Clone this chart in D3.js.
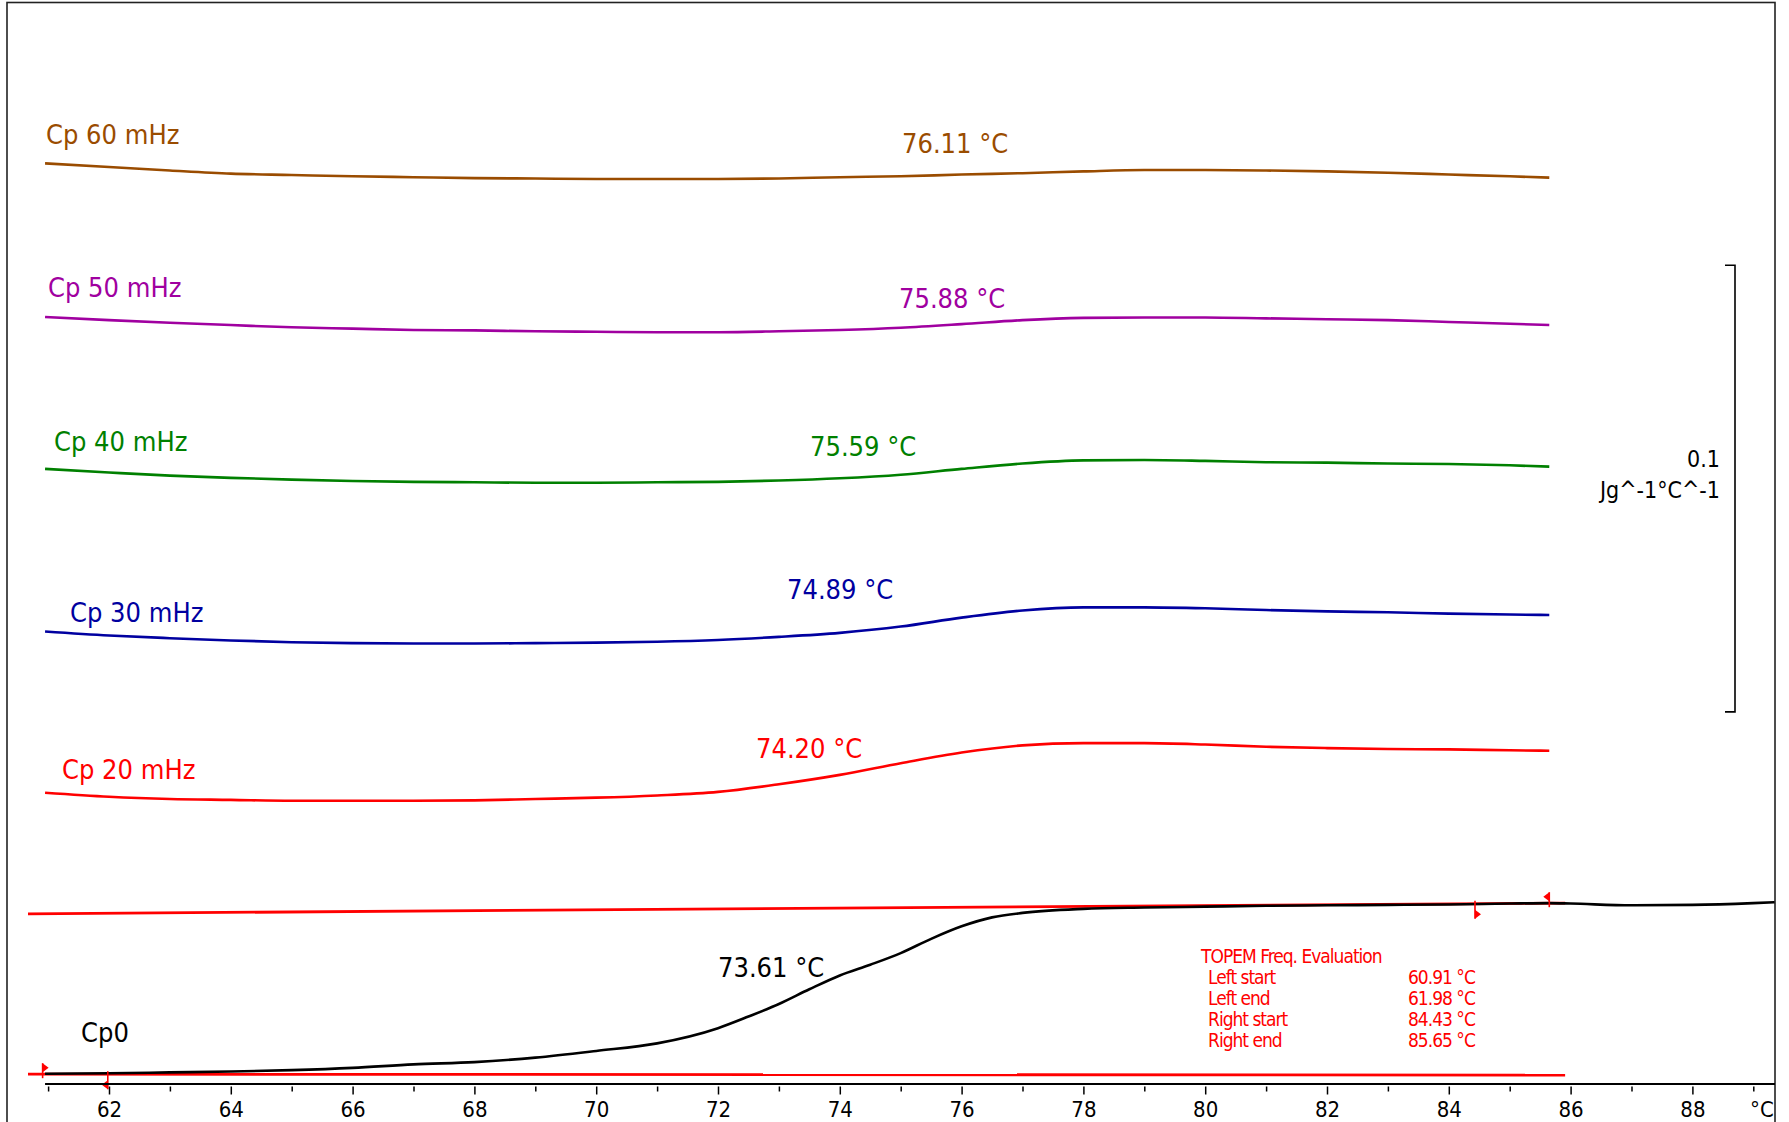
<!DOCTYPE html>
<html>
<head>
<meta charset="utf-8">
<script src="https://cdn.jsdelivr.net/npm/d3@7"></script>
<style>
  html, body { margin: 0; padding: 0; background: #fff; }
  svg { display: block; }
  text { font-family: "DejaVu Sans Condensed", "DejaVu Sans", sans-serif; font-stretch: condensed; }
</style>
</head>
<body>
<svg id="chart" width="1789" height="1122"></svg>
<script>
// ---- Data -------------------------------------------------------------
// Temperature grid (°C) shared by the five TOPEM frequency curves
const temps = [60.95, 62, 63, 64, 65, 66, 67, 68, 69, 70, 71, 72, 73, 74, 75,
               76, 77, 78, 79, 80, 81, 82, 83, 84, 85, 85.65];

// Shifted Cp curves, J g^-1 °C^-1
const cp60 = [0.2061, 0.2053, 0.2045, 0.2038, 0.2035, 0.2032, 0.2030, 0.2028, 0.2027, 0.2026,
              0.2026, 0.2026, 0.2027, 0.2030, 0.2032, 0.2036, 0.2039, 0.2043, 0.2046, 0.2046,
              0.2045, 0.2043, 0.2040, 0.2036, 0.2032, 0.2029];
const cp50 = [0.1717, 0.1710, 0.1704, 0.1699, 0.1694, 0.1691, 0.1688, 0.1687, 0.1685, 0.1684,
              0.1683, 0.1683, 0.1685, 0.1688, 0.1693, 0.1701, 0.1710, 0.1715, 0.1716, 0.1716,
              0.1714, 0.1712, 0.1710, 0.1706, 0.1702, 0.1699];
const cp40 = [0.1377, 0.1369, 0.1362, 0.1357, 0.1353, 0.1350, 0.1348, 0.1347, 0.1346, 0.1346,
              0.1347, 0.1348, 0.1351, 0.1356, 0.1364, 0.1377, 0.1389, 0.1396, 0.1397, 0.1395,
              0.1392, 0.1391, 0.1389, 0.1388, 0.1385, 0.1382];
const cp30 = [0.1013, 0.1004, 0.0998, 0.0993, 0.0989, 0.0987, 0.0986, 0.0986, 0.0987, 0.0988,
              0.0990, 0.0994, 0.1001, 0.1010, 0.1024, 0.1044, 0.1060, 0.1067, 0.1067, 0.1065,
              0.1061, 0.1058, 0.1056, 0.1053, 0.1051, 0.1050];
const cp20 = [0.0652, 0.0643, 0.0638, 0.0636, 0.0634, 0.0634, 0.0634, 0.0635, 0.0638, 0.0641,
              0.0646, 0.0654, 0.0671, 0.0692, 0.0718, 0.0742, 0.0758, 0.0763, 0.0763, 0.0760,
              0.0755, 0.0752, 0.0750, 0.0749, 0.0747, 0.0746];

// Quasi-static Cp0 curve, on its own (finer, longer) temperature grid
const cp0Temps = [60.95, 62, 63, 64, 65, 66, 67, 68, 69, 70, 71, 72, 72.5, 73, 73.5, 74, 74.5,
                  75, 75.5, 76, 76.5, 77, 78, 79, 80, 81, 82, 83, 84, 85, 85.65, 86, 87, 88, 89, 89.35];
const cp0 = [0.0023, 0.0024, 0.0026, 0.0028, 0.0031, 0.0036, 0.0044, 0.0049, 0.0059, 0.0074,
             0.0091, 0.0125, 0.0151, 0.0179, 0.0212, 0.0243, 0.0267, 0.0293, 0.0325, 0.0353,
             0.0373, 0.0383, 0.0392, 0.0395, 0.0397, 0.0399, 0.0400, 0.0401, 0.0402, 0.0404,
             0.0405, 0.0404, 0.0400, 0.0401, 0.0405, 0.0407];

// Curve names and their evaluated glass-transition midpoints (°C)
const curveNames = ["Cp 60 mHz", "Cp 50 mHz", "Cp 40 mHz", "Cp 30 mHz", "Cp 20 mHz", "Cp0"];
const midpoints  = [76.11, 75.88, 75.59, 74.89, 74.20, 73.61];

// Tangent baselines of the Cp0 step: [temperature, Cp]
const lowerBaseline = [[60.67, 0.0022], [85.91, 0.0020]];
const upperBaseline = [[60.67, 0.0381], [85.91, 0.0405]];

// TOPEM evaluation limits
const limitNames = ["Left start", "Left end", "Right start", "Right end"];
const limitTemps = [60.91, 61.98, 84.43, 85.65];

// Axis ticks
const majorTicks = [62, 64, 66, 68, 70, 72, 74, 76, 78, 80, 82, 84, 86, 88];
const minorTicks = [61, 63, 65, 67, 69, 71, 73, 75, 77, 79, 81, 83, 85, 87, 89];
const scaleBarValue = 0.1;

// ---- Layout -----------------------------------------------------------
const W = 1789, H = 1122;
const AXIS_Y = 1084;
const FRAME = { left: 7, top: 2.5, right: 1775 };
const colors = ["#9a4c00", "#a000a0", "#008000", "#0000a0", "#ff0000", "#000000"];
const seriesVals = [cp60, cp50, cp40, cp30, cp20];

const svg = d3.select("#chart");

const x = d3.scaleLinear().domain([62, 88]).range([109, 1692.4]);
const y = d3.scaleLinear().domain([0, 0.1]).range([AXIS_Y, AXIS_Y - 446.7]);

// Outer frame
svg.append("rect")
  .attr("x", FRAME.left).attr("y", FRAME.top)
  .attr("width", FRAME.right - FRAME.left).attr("height", H + 20)
  .attr("fill", "none").attr("stroke", "#222").attr("stroke-width", 1.6);

const line = d3.line()
  .x(d => x(d[0])).y(d => y(d[1]))
  .curve(d3.curveMonotoneX);

// Frequency curves
seriesVals.forEach((vals, i) => {
  svg.append("path")
    .datum(temps.map((t, k) => [t, vals[k]]))
    .attr("d", line)
    .attr("fill", "none")
    .attr("stroke", colors[i])
    .attr("stroke-width", 2.6);
});

// Tangent baselines
[lowerBaseline, upperBaseline].forEach(bl => {
  svg.append("path")
    .datum(bl)
    .attr("d", d3.line().x(d => x(d[0])).y(d => y(d[1])))
    .attr("stroke", "#ff0000").attr("stroke-width", 2.8).attr("fill", "none");
});

// Cp0 curve
svg.append("path")
  .datum(cp0Temps.map((t, k) => [t, cp0[k]]))
  .attr("d", line)
  .attr("fill", "none")
  .attr("stroke", "#000")
  .attr("stroke-width", 2.6);

// Evaluation limit flags on the baselines
function baselineAt(bl, t) {
  const f = (t - bl[0][0]) / (bl[1][0] - bl[0][0]);
  return bl[0][1] + f * (bl[1][1] - bl[0][1]);
}
const flagAbove = [true, false, false, true];
limitTemps.forEach((t, i) => {
  const bl = i < 2 ? lowerBaseline : upperBaseline;
  const px = x(t), py = y(baselineAt(bl, t));
  const dir = (i % 2 === 0) ? 1 : -1;           // start flags point right, end flags left
  const g = svg.append("g").attr("class", "limit-flag");
  let s0, s1, f0, f1;
  if (flagAbove[i]) { s0 = py - 11; s1 = py + 4; f0 = py - 11; f1 = py - 2; }
  else              { s0 = py - 3;  s1 = py + 15; f0 = py + 6;  f1 = py + 15; }
  g.append("line").attr("x1", px).attr("x2", px).attr("y1", s0).attr("y2", s1)
    .attr("stroke", "#ff0000").attr("stroke-width", 1.6);
  g.append("path")
    .attr("d", `M${px},${f0} L${px + dir * 6},${(f0 + f1) / 2} L${px},${f1} Z`)
    .attr("fill", "#ff0000");
});

// Curve names and midpoint temperatures
const namePos = [[46, 144], [48, 297], [54, 451], [70, 622], [62, 779], [81, 1042]];
const midPos  = [[902, 153], [899, 308], [810, 456], [787, 599], [756, 758], [718, 977]];
curveNames.forEach((name, i) => {
  svg.append("text").attr("x", namePos[i][0]).attr("y", namePos[i][1])
    .attr("fill", colors[i]).style("font-size", "27px").text(name);
  svg.append("text").attr("x", midPos[i][0]).attr("y", midPos[i][1])
    .attr("fill", colors[i]).style("font-size", "27px")
    .text(d3.format(".2f")(midpoints[i]) + " °C");
});

// Temperature axis
svg.append("line")
  .attr("x1", x(60.95)).attr("x2", FRAME.right)
  .attr("y1", AXIS_Y).attr("y2", AXIS_Y)
  .attr("stroke", "#000").attr("stroke-width", 1.8);

const majorG = svg.append("g")
  .attr("transform", `translate(0,${AXIS_Y + 2.5})`)
  .call(d3.axisBottom(x).tickValues(majorTicks).tickSize(8).tickFormat(d3.format("d")));
const minorG = svg.append("g")
  .attr("transform", `translate(0,${AXIS_Y + 2.5})`)
  .call(d3.axisBottom(x).tickValues(minorTicks).tickSize(5).tickFormat(""));
[majorG, minorG].forEach(g => {
  g.select(".domain").remove();
  g.selectAll(".tick line").attr("stroke", "#000").attr("stroke-width", 1.5);
});
majorG.selectAll(".tick text")
  .attr("y", 30).attr("dy", null)
  .attr("fill", "#000")
  .style("font-size", "22px");

svg.append("text").attr("x", 1750).attr("y", AXIS_Y + 32.5)
  .attr("fill", "#000").style("font-size", "22px").text("°C");

// Ordinate scale bar
const SB_X = 1735, SB_BASE = 0.0833;
const sbTop = y(SB_BASE + scaleBarValue), sbBot = y(SB_BASE);
svg.append("path")
  .attr("d", `M${SB_X - 10},${sbTop} H${SB_X} V${sbBot} H${SB_X - 10}`)
  .attr("fill", "none").attr("stroke", "#000").attr("stroke-width", 1.6);
svg.append("text").attr("x", 1720).attr("y", 467).attr("text-anchor", "end")
  .attr("fill", "#000").style("font-size", "23px").text(String(scaleBarValue));
svg.append("text").attr("x", 1720).attr("y", 498).attr("text-anchor", "end")
  .attr("fill", "#000").style("font-size", "23px").text("Jg^-1°C^-1");

// TOPEM evaluation table
const table = svg.append("g").attr("fill", "#ff0000")
  .style("font-size", "19px").style("letter-spacing", "-1px");
table.append("text").attr("x", 1201).attr("y", 963).text("TOPEM Freq. Evaluation");
limitNames.forEach((name, i) => {
  const by = 984 + i * 21;
  table.append("text").attr("x", 1208).attr("y", by).text(name);
  table.append("text").attr("x", 1408).attr("y", by)
    .text(d3.format(".2f")(limitTemps[i]) + " °C");
});
</script>
</body>
</html>
